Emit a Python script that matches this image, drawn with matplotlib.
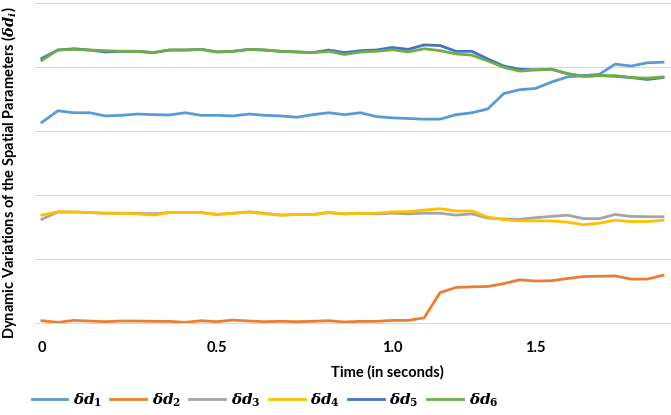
import matplotlib
matplotlib.use("Agg")
import matplotlib.pyplot as plt

plt.rcParams['font.family'] = ['Lato', 'DejaVu Sans']
plt.rcParams['mathtext.fontset'] = 'custom'
plt.rcParams['mathtext.rm'] = 'DejaVu Serif:bold'
plt.rcParams['mathtext.it'] = 'DejaVu Serif:italic:bold'

# sample index along the time axis (one sample per frame)
samples = list(range(40))
tick_pos = [0, 11, 22, 31]
tick_labels = ["0", "0.5", "1.0", "1.5"]

d1 = [3.14, 3.32, 3.29, 3.29, 3.24, 3.25, 3.27, 3.26, 3.255, 3.29,
      3.25, 3.25, 3.24, 3.27, 3.25, 3.24, 3.22, 3.26, 3.29, 3.26,
      3.29, 3.23, 3.21, 3.20, 3.19, 3.19, 3.26, 3.29, 3.35, 3.59,
      3.65, 3.67, 3.77, 3.85, 3.87, 3.89, 4.05, 4.02, 4.07, 4.08]
d2 = [0.04, 0.015, 0.045, 0.035, 0.025, 0.035, 0.035, 0.03, 0.03, 0.015,
      0.04, 0.025, 0.05, 0.035, 0.025, 0.03, 0.025, 0.03, 0.04, 0.02,
      0.03, 0.03, 0.045, 0.045, 0.085, 0.48, 0.56, 0.57, 0.575, 0.62,
      0.68, 0.66, 0.665, 0.70, 0.73, 0.735, 0.74, 0.69, 0.69, 0.75]
d3 = [1.625, 1.74, 1.74, 1.73, 1.72, 1.72, 1.72, 1.71, 1.73, 1.73,
      1.73, 1.70, 1.72, 1.74, 1.72, 1.69, 1.70, 1.70, 1.73, 1.71,
      1.72, 1.71, 1.72, 1.71, 1.72, 1.72, 1.69, 1.71, 1.645, 1.63,
      1.625, 1.65, 1.67, 1.69, 1.635, 1.635, 1.70, 1.67, 1.665, 1.665]
d4 = [1.69, 1.74, 1.74, 1.73, 1.72, 1.72, 1.71, 1.69, 1.73, 1.73,
      1.73, 1.70, 1.72, 1.74, 1.71, 1.69, 1.70, 1.70, 1.73, 1.71,
      1.72, 1.72, 1.74, 1.745, 1.77, 1.79, 1.755, 1.755, 1.66, 1.62,
      1.60, 1.60, 1.60, 1.58, 1.54, 1.565, 1.61, 1.59, 1.59, 1.61]
d5 = [4.14, 4.27, 4.29, 4.27, 4.24, 4.25, 4.25, 4.23, 4.27, 4.27,
      4.28, 4.24, 4.25, 4.28, 4.27, 4.25, 4.24, 4.23, 4.27, 4.23,
      4.26, 4.27, 4.31, 4.28, 4.35, 4.34, 4.25, 4.25, 4.13, 4.02,
      3.97, 3.96, 3.97, 3.90, 3.86, 3.87, 3.86, 3.84, 3.81, 3.84]
d6 = [4.11, 4.27, 4.28, 4.27, 4.26, 4.25, 4.25, 4.23, 4.27, 4.27,
      4.28, 4.24, 4.25, 4.28, 4.27, 4.25, 4.24, 4.23, 4.25, 4.20,
      4.24, 4.25, 4.275, 4.24, 4.29, 4.26, 4.21, 4.19, 4.10, 4.00,
      3.94, 3.96, 3.97, 3.90, 3.86, 3.87, 3.87, 3.84, 3.83, 3.85]

series = [d1, d2, d3, d4, d5, d6]
names = [r"$\delta d_1$", r"$\delta d_2$", r"$\delta d_3$",
         r"$\delta d_4$", r"$\delta d_5$", r"$\delta d_6$"]
colors = ["#5B9BD5", "#ED7D31", "#A5A5A5", "#FFC000", "#4472C4", "#70AD47"]

fig = plt.figure(figsize=(6.71, 4.15), dpi=100)
ax = fig.add_axes([0.052, 0.221, 0.948, 0.771])

for ys, name, c in zip(series, names, colors):
    ax.plot(samples, ys, color=c, lw=2, label=name)

ax.set_xlim(-0.44, 39.5)
ax.set_ylim(0, 5)
ax.set_yticks([1, 2, 3, 4, 5])
ax.set_yticklabels([])
ax.yaxis.grid(True, color="#D9D9D9", lw=0.8)
ax.set_axisbelow(True)
ax.tick_params(length=0)
ax.set_xticks(tick_pos)
ax.set_xticklabels(tick_labels, fontsize=10.5, fontweight="bold")
ax.tick_params(axis="x", pad=13)
for s in ["top", "right", "left"]:
    ax.spines[s].set_visible(False)
ax.spines["bottom"].set_color("#D9D9D9")
ax.spines["bottom"].set_linewidth(0.8)

fig.text(0.577, 0.104, "Time (in seconds)", ha="center", va="center",
         fontsize=10.5, fontweight="bold")
fig.text(0.014, 0.585, r"Dynamic Variations of the Spatial Parameters ($\delta d_i$)",
         rotation=90, ha="center", va="center", fontsize=10.5, fontweight="bold")

fig.legend(loc="center left", bbox_to_anchor=(0.047, 0.036), ncol=6,
           frameon=False, fontsize=11, handlelength=2.35, handletextpad=0.35,
           columnspacing=0.55, borderaxespad=0, borderpad=0)

fig.savefig("out.png", dpi=100)
